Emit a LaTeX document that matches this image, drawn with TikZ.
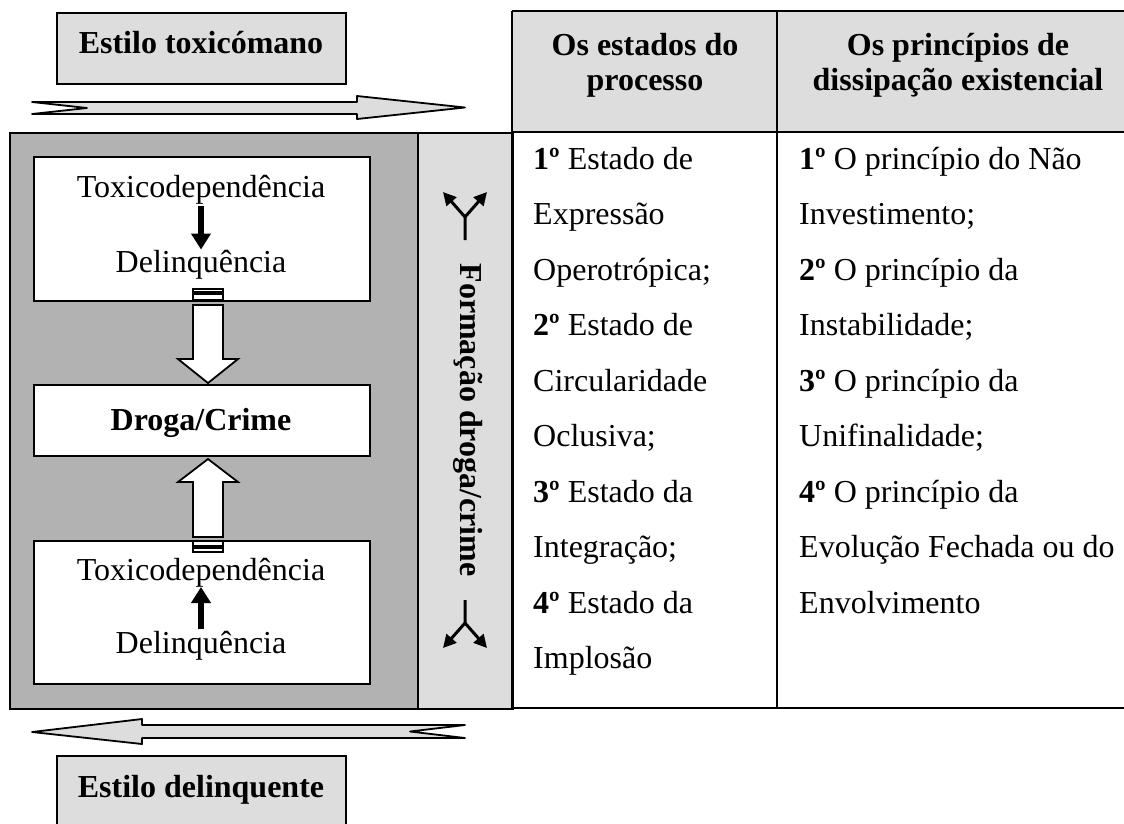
\documentclass[tikz,border=0pt]{standalone}
\usepackage{fontspec}
\setmainfont{Liberation Serif}
\usetikzlibrary{arrows.meta,calc}
\definecolor{lightg}{HTML}{DDDDDD}
\definecolor{midg}{HTML}{B2B2B2}
\begin{document}
\begin{tikzpicture}[x=1pt,y=-1pt,
  every node/.style={inner sep=0pt, font=\fontsize{32}{38}\selectfont},
  boldtxt/.style={font=\fontsize{32}{38}\selectfont\bfseries},
  lbox/.style={draw, line width=2pt, fill=lightg},
  wbox/.style={draw, line width=2pt, fill=white},
  tline/.style={line width=2pt},
  bigarr/.style={draw, fill=lightg, line width=1.8pt, line join=round},
  hol/.style={draw, fill=white, line width=1.8pt},
  blk/.style={line width=6pt, -{Triangle[length=16pt,width=19pt]}},
  fork/.style={line width=3pt, -{Triangle[length=13pt,width=13pt]}}]
\useasboundingbox (0,0) rectangle (1124,823);
\clip (0,0) rectangle (1124,823);

% table header background
\fill[lightg] (512,11) rectangle (1140,132);

% grey panel and strip
\node[draw, line width=2pt, fill=midg, minimum width=408pt, minimum height=576pt, anchor=north west] (panel) at (9,132) {};
\node[draw, line width=2pt, fill=lightg, minimum width=95pt, minimum height=576pt, anchor=north west] (strip) at (417,132) {};

% table lines
\draw[tline] (512,11) -- (1140,11);
\draw[tline] (512,11) -- (512,708);
\draw[tline] (777,11) -- (777,708);
\draw[tline] (512,132) -- (1140,132);
\draw[tline] (512,708) -- (1140,708);

% header texts
\node[boldtxt, anchor=base] (h1a) at (645,55) {Os estados do};
\node[boldtxt, anchor=base] (h1b) at (645,90) {processo};
\node[boldtxt, anchor=base] (h2a) at (958,55) {Os princípios de};
\node[boldtxt, anchor=base] (h2b) at (958,90) {dissipação existencial};

% body columns
\foreach \t [count=\i] in {{\textbf{1º} Estado de},{Expressão},{Operotrópica;},{\textbf{2º} Estado de},{Circularidade},{Oclusiva;},{\textbf{3º} Estado da},{Integração;},{\textbf{4º} Estado da},{Implosão}}
  \node[anchor=base west] (ca\i) at (533,{169+55.5*(\i-1)}) {\t};
\foreach \t [count=\i] in {{\textbf{1º} O princípio do Não},{Investimento;},{\textbf{2º} O princípio da},{Instabilidade;},{\textbf{3º} O princípio da},{Unifinalidade;},{\textbf{4º} O princípio da},{Evolução Fechada ou do},{Envolvimento}}
  \node[anchor=base west] (cb\i) at (799,{169+55.5*(\i-1)}) {\t};

% title boxes
\node[lbox, minimum width=289pt, minimum height=71pt, anchor=north west] (toxbox) at (56,12) {};
\node[boldtxt, anchor=base] (toxt) at (201,53) {Estilo toxicómano};
\node[lbox, minimum width=289pt, minimum height=100pt, anchor=north west] (delbox) at (56,755) {};
\node[boldtxt, anchor=base] (delt) at (201,797) {Estilo delinquente};

% big horizontal arrows
\draw[bigarr] (32,102) -- (357,102) -- (357,96) -- (465,107.5) -- (357,119) -- (357,114) -- (32,114) -- (87,108) -- cycle;
\draw[bigarr] (465,725) -- (142,725) -- (142,719) -- (32,732) -- (142,744) -- (142,738) -- (465,738) -- (410,731.5) -- cycle;

% white boxes
\node[wbox, minimum width=336pt, minimum height=144pt, anchor=north west] (topbox) at (33,156) {};
\node[wbox, minimum width=336pt, minimum height=71pt, anchor=north west] (droga) at (33,384) {};
\node[wbox, minimum width=336pt, minimum height=143pt, anchor=north west] (botbox) at (33,540) {};

\node[anchor=base] (t1) at (201,197) {Toxicodependência};
\node[anchor=base] (d1) at (201,272) {Delinquência};
\node[boldtxt, anchor=base] (dc) at (201,430) {Droga/Crime};
\node[anchor=base] (t2) at (201,580) {Toxicodependência};
\node[anchor=base] (d2) at (201,653) {Delinquência};

\draw[blk, shorten <=2pt] (t1.south) -- (d1.north);
\draw[blk, shorten <=2pt] (d2.north) -- (t2.south);

% hollow block arrows
\coordinate (h1s) at ($(topbox.south)+(6,3)$);
\coordinate (h1e) at ($(droga.north)+(6,-1)$);
\draw[hol] ($(h1s)+(-15,0)$) -- ($(h1e)+(-15,-24)$) -- ($(h1e)+(-30,-24)$) -- (h1e) -- ($(h1e)+(30,-24)$) -- ($(h1e)+(15,-24)$) -- ($(h1s)+(15,0)$) -- cycle;
\draw[hol] ($(h1s)+(-15,-5)$) rectangle ($(h1s)+(15,-11)$);
\draw[hol] ($(h1s)+(-15,-13)$) rectangle ($(h1s)+(15,-16)$);

\coordinate (h2s) at ($(botbox.north)+(6,-3)$);
\coordinate (h2e) at ($(droga.south)+(6,2)$);
\draw[hol] ($(h2s)+(-15,0)$) -- ($(h2e)+(-15,23)$) -- ($(h2e)+(-30,23)$) -- (h2e) -- ($(h2e)+(30,23)$) -- ($(h2e)+(15,23)$) -- ($(h2s)+(15,0)$) -- cycle;
\draw[hol] ($(h2s)+(-15,4)$) rectangle ($(h2s)+(15,9)$);
\draw[hol] ($(h2s)+(-15,11)$) rectangle ($(h2s)+(15,15)$);

% vertical strip
\node[boldtxt, rotate=-90] (form) at (468,420) {Formação droga/crime};
\coordinate (f1) at (465,217);
\draw[fork] (465,240) -- (f1) -- (443,192);
\draw[fork] (f1) -- (487,192);
\coordinate (f2) at (465,623);
\draw[fork] (465,600) -- (f2) -- (443,648);
\draw[fork] (f2) -- (487,648);
\end{tikzpicture}
\end{document}
